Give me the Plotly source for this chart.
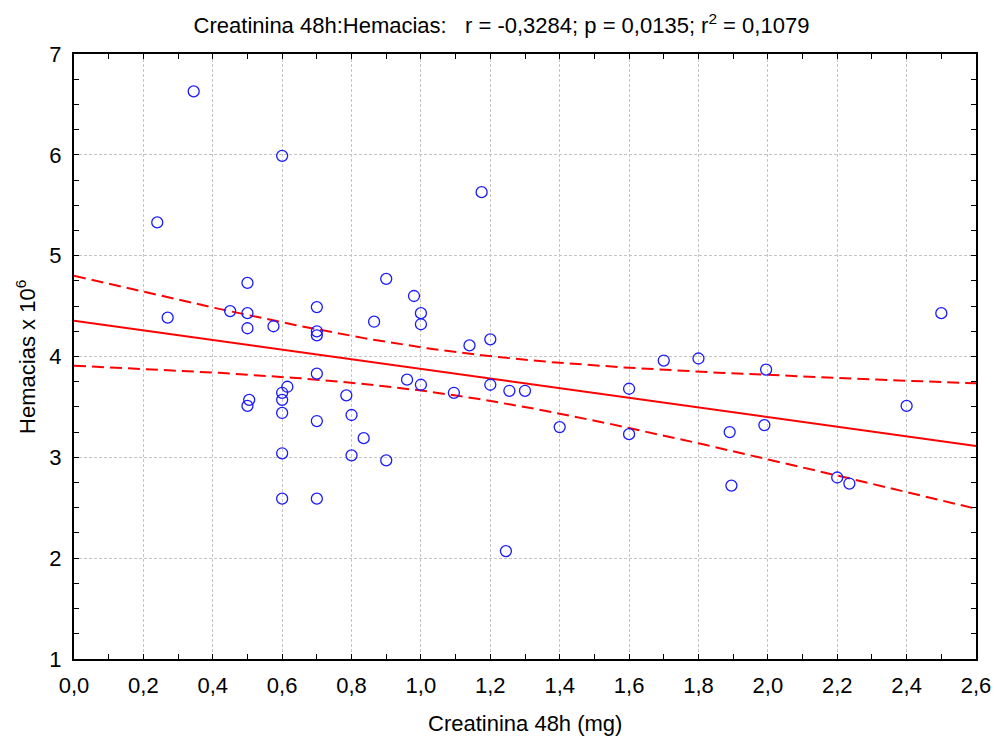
import numpy as np
import plotly.graph_objects as go

creatinina = [0.24, 0.27, 0.345, 0.45, 0.50, 0.50, 0.50, 0.50, 0.505, 0.575,
              0.60, 0.60, 0.60, 0.60, 0.60, 0.60, 0.615, 0.70, 0.70, 0.70,
              0.70, 0.70, 0.70, 0.785, 0.80, 0.80, 0.835, 0.865, 0.90, 0.90,
              0.96, 0.98, 1.00, 1.00, 1.00, 1.095, 1.14, 1.175, 1.20, 1.20,
              1.245, 1.255, 1.30, 1.40, 1.60, 1.60, 1.70, 1.80, 1.89, 1.895,
              1.99, 1.995, 2.20, 2.235, 2.40, 2.50]
hemacias = [5.33, 4.385, 6.63, 4.45, 4.73, 4.43, 4.28, 3.51, 3.57, 4.30,
            5.99, 3.64, 3.57, 3.44, 3.04, 2.59, 3.70, 4.49, 4.25, 4.21,
            3.83, 3.36, 2.59, 3.615, 3.42, 3.02, 3.19, 4.345, 4.77, 2.97,
            3.77, 4.60, 4.43, 4.32, 3.72, 3.64, 4.11, 5.63, 4.17, 3.72,
            2.07, 3.66, 3.66, 3.30, 3.68, 3.23, 3.96, 3.98, 3.25, 2.72,
            3.32, 3.87, 2.80, 2.74, 3.51, 4.43]
x_ticks = [0.0, 0.2, 0.4, 0.6, 0.8, 1.0, 1.2, 1.4, 1.6, 1.8, 2.0, 2.2, 2.4, 2.6]
x_ticklabels = ["0,0", "0,2", "0,4", "0,6", "0,8", "1,0", "1,2", "1,4", "1,6",
                "1,8", "2,0", "2,2", "2,4", "2,6"]
y_ticks = [1, 2, 3, 4, 5, 6, 7]

x = np.array(creatinina)
y = np.array(hemacias)
n = len(x)
b, a = np.polyfit(x, y, 1)
resid = y - (a + b * x)
s = np.sqrt(np.sum(resid ** 2) / (n - 2))
xm = x.mean()
sxx = np.sum((x - xm) ** 2)
t = 2.005
xf = np.linspace(0, 2.6, 200)
yf = a + b * xf
half = t * s * np.sqrt(1.0 / n + (xf - xm) ** 2 / sxx)

FONT = "Liberation Sans, Arial"
FS = 22
fig = go.Figure()
fig.add_trace(go.Scatter(x=xf, y=yf + half, mode="lines",
                         line=dict(color="#ff0000", width=2, dash="12px,6px"), hoverinfo="skip"))
fig.add_trace(go.Scatter(x=xf, y=yf - half, mode="lines",
                         line=dict(color="#ff0000", width=2, dash="12px,6px"), hoverinfo="skip"))
fig.add_trace(go.Scatter(x=xf, y=yf, mode="lines",
                         line=dict(color="#ff0000", width=2), hoverinfo="skip"))
fig.add_trace(go.Scatter(x=creatinina, y=hemacias, mode="markers",
                         marker=dict(symbol="circle-open", size=11, color="#1a1aff",
                                     line=dict(width=1.3, color="#1a1aff"))))

fig.update_layout(
    width=995, height=738,
    margin=dict(l=74, r=19, t=54, b=79),
    paper_bgcolor="white", plot_bgcolor="white",
    showlegend=False,
    font=dict(family=FONT, size=FS, color="black"),
    title=dict(text="Creatinina 48h:Hemacias:   r = -0,3284; p = 0,0135; r<sup>2</sup> = 0,1079",
               x=0.504, xanchor="center", y=0.966, yanchor="middle",
               font=dict(family=FONT, size=FS, color="black")),
    annotations=[
        dict(text="Creatinina 48h (mg)", xref="paper", yref="paper", x=0.5, y=-0.1066,
             xanchor="center", yanchor="middle", showarrow=False,
             font=dict(family=FONT, size=FS, color="black")),
        dict(text="Hemacias x 10<sup>6</sup>", xref="paper", yref="paper", x=-0.0539, y=0.5,
             xanchor="center", yanchor="middle", showarrow=False, textangle=-90,
             font=dict(family=FONT, size=FS, color="black")),
    ],
)
fig.update_xaxes(
    range=[0, 2.6], tickvals=x_ticks, ticktext=x_ticklabels, automargin=False,
    showline=True, linecolor="black", linewidth=2, mirror="allticks",
    ticks="inside", ticklen=5, tickwidth=1, tickcolor="black",
    minor=dict(ticks="inside", dtick=0.1, ticklen=5, tickcolor="black", showgrid=False),
    showgrid=True, gridcolor="#c4c4c4", griddash="3px,2px", gridwidth=1,
    zeroline=False, ticklabelstandoff=6,
)
fig.update_yaxes(
    range=[1, 7], tickvals=y_ticks, automargin=False,
    showline=True, linecolor="black", linewidth=2, mirror="allticks",
    ticks="inside", ticklen=5, tickwidth=1, tickcolor="black",
    minor=dict(ticks="inside", dtick=0.25, ticklen=5, tickcolor="black", showgrid=False),
    showgrid=True, gridcolor="#c4c4c4", griddash="3px,2px", gridwidth=1,
    zeroline=False, ticklabelstandoff=6,
)
fig.write_html("out.html")
